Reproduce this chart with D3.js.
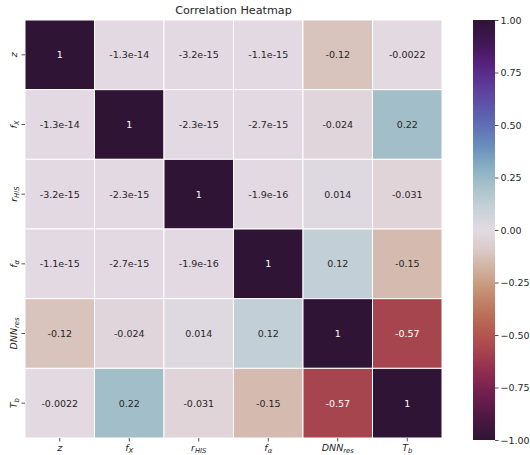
<!DOCTYPE html>
<html>
<head>
<meta charset="utf-8">
<script src="https://cdn.jsdelivr.net/npm/d3@7"></script>
<style>
  html, body { margin: 0; padding: 0; background: #ffffff; }
  svg { display: block; font-family: "DejaVu Sans", sans-serif; }
</style>
</head>
<body>
<svg id="chart" width="530" height="455"></svg>
<script>
// Variables (rows and columns, same order)
const varNames = ["z", "fX", "rHIS", "fa", "DNNres", "Tb"];
// Label parts: [main symbol, subscript]
const varLabels = [["z", ""], ["f", "X"], ["r", "HIS"], ["f", "α"], ["DNN", "res"], ["T", "b"]];

// Correlation matrix rows
const rowZ      = [1, -1.3e-14, -3.2e-15, -1.1e-15, -0.12, -0.0022];
const rowFX     = [-1.3e-14, 1, -2.3e-15, -2.7e-15, -0.024, 0.22];
const rowRHIS   = [-3.2e-15, -2.3e-15, 1, -1.9e-16, 0.014, -0.031];
const rowFA     = [-1.1e-15, -2.7e-15, -1.9e-16, 1, 0.12, -0.15];
const rowDNNres = [-0.12, -0.024, 0.014, 0.12, 1, -0.57];
const rowTb     = [-0.0022, 0.22, -0.031, -0.15, -0.57, 1];
const matrixRows = [rowZ, rowFX, rowRHIS, rowFA, rowDNNres, rowTb];

// Colour bar ticks
const cbarTicks = [-1, -0.75, -0.5, -0.25, 0, 0.25, 0.5, 0.75, 1];

// Diverging cyclic palette stops (value -> colour)
const paletteDomain = [-1, -0.9, -0.8, -0.7, -0.6, -0.5, -0.4, -0.3, -0.2, -0.1, 0,
                       0.1, 0.2, 0.3, 0.4, 0.5, 0.6, 0.7, 0.8, 0.9, 1];
const paletteColors = ["#2f1436", "#4a1840", "#6b1d4c", "#8a2851", "#a23e4e", "#b25650",
                       "#bb7058", "#c48e70", "#cfad98", "#dbc9c6", "#e2d9e2",
                       "#c8d2d9", "#a9c3cb", "#88aec3", "#6a8ebd", "#5f6eb4",
                       "#5e52a8", "#5d3894", "#55207c", "#3e1650", "#2f1436"];

const color = d3.scaleLinear().domain(paletteDomain).range(paletteColors)
  .interpolate(d3.interpolateRgb).clamp(true);

const svg = d3.select("#chart");
const plotLeft = 25, plotTop = 20, plotRight = 442, plotBottom = 438;
const fs = 9.5;

const x = d3.scaleBand().domain(varNames).range([plotLeft, plotRight]);
const y = d3.scaleBand().domain(varNames).range([plotTop, plotBottom]);

function fmt(v) {
  let s = v.toPrecision(2);
  if (s.indexOf("e") >= 0) {
    let [m, e] = s.split("e");
    if (m.indexOf(".") >= 0) m = m.replace(/0+$/, "").replace(/\.$/, "");
    const ex = parseInt(e, 10);
    return m + "e" + (ex < 0 ? "-" : "+") + String(Math.abs(ex)).padStart(2, "0");
  }
  if (s.indexOf(".") >= 0) s = s.replace(/0+$/, "").replace(/\.$/, "");
  return s;
}

function luminance(c) {
  const rgb = d3.rgb(c);
  const lin = [rgb.r, rgb.g, rgb.b].map(v => {
    v /= 255;
    return v <= 0.03928 ? v / 12.92 : Math.pow((v + 0.055) / 1.055, 2.4);
  });
  return 0.2126 * lin[0] + 0.7152 * lin[1] + 0.0722 * lin[2];
}

const cells = [];
matrixRows.forEach((row, i) => row.forEach((v, j) => cells.push({ r: varNames[i], c: varNames[j], v })));

// Heatmap cells
const g = svg.append("g");
g.selectAll("rect").data(cells).join("rect")
  .attr("x", d => x(d.c))
  .attr("y", d => y(d.r))
  .attr("width", x.bandwidth())
  .attr("height", y.bandwidth())
  .attr("fill", d => color(d.v))
  .attr("stroke", "#ffffff")
  .attr("stroke-width", 1);

// Annotations
g.selectAll("text").data(cells).join("text")
  .attr("x", d => x(d.c) + x.bandwidth() / 2)
  .attr("y", d => y(d.r) + y.bandwidth() / 2)
  .attr("text-anchor", "middle")
  .attr("dominant-baseline", "central")
  .attr("font-size", fs)
  .attr("fill", d => luminance(color(d.v)) > 0.408 ? "#262626" : "#ffffff")
  .text(d => fmt(d.v));

// Axis label with subscript
function mathLabel(sel, lab) {
  sel.append("tspan").attr("font-style", "italic").text(lab[0]);
  if (lab[1]) {
    sel.append("tspan").attr("font-style", "italic")
      .attr("font-size", 6.8).attr("dy", 1.8).text(lab[1]);
  }
}

// X axis
const xAxis = svg.append("g");
varNames.forEach((n, i) => {
  const cx = x(n) + x.bandwidth() / 2;
  xAxis.append("line").attr("x1", cx).attr("x2", cx).attr("y1", plotBottom).attr("y2", plotBottom + 3.5)
    .attr("stroke", "#262626").attr("stroke-width", 0.8);
  const t = xAxis.append("text").attr("x", cx).attr("y", plotBottom + 13)
    .attr("text-anchor", "middle").attr("font-size", fs).attr("fill", "#262626");
  mathLabel(t, varLabels[i]);
});

// Y axis
const yAxis = svg.append("g");
varNames.forEach((n, i) => {
  const cy = y(n) + y.bandwidth() / 2;
  yAxis.append("line").attr("x1", plotLeft - 3.5).attr("x2", plotLeft).attr("y1", cy).attr("y2", cy)
    .attr("stroke", "#262626").attr("stroke-width", 0.8);
  const t = yAxis.append("text")
    .attr("transform", `translate(${plotLeft - 8},${cy}) rotate(-90)`)
    .attr("text-anchor", "middle").attr("font-size", fs).attr("fill", "#262626");
  mathLabel(t, varLabels[i]);
});

// Title
svg.append("text").attr("x", (plotLeft + plotRight) / 2).attr("y", 14)
  .attr("text-anchor", "middle").attr("font-size", 11.2).attr("fill", "#262626")
  .text("Correlation Heatmap");

// Colour bar
const cbX = 473, cbW = 22;
const cbScale = d3.scaleLinear().domain([-1, 1]).range([plotBottom + 2, plotTop]);
const defs = svg.append("defs");
const grad = defs.append("linearGradient").attr("id", "cbar")
  .attr("x1", 0).attr("y1", 1).attr("x2", 0).attr("y2", 0);
d3.range(0, 1.0001, 0.02).forEach(t => {
  grad.append("stop").attr("offset", t).attr("stop-color", color(-1 + 2 * t));
});
svg.append("rect").attr("x", cbX).attr("y", cbScale(1)).attr("width", cbW)
  .attr("height", cbScale(-1) - cbScale(1)).attr("fill", "url(#cbar)");

const cbAxis = svg.append("g").attr("transform", `translate(${cbX + cbW},0)`)
  .call(d3.axisRight(cbScale).tickValues(cbarTicks).tickSize(3.5).tickPadding(2)
    .tickFormat(d => d3.format(".2f")(d)));
cbAxis.select(".domain").remove();
cbAxis.selectAll("text").attr("font-size", fs).attr("fill", "#262626")
  .attr("font-family", "DejaVu Sans, sans-serif");
cbAxis.selectAll("line").attr("stroke", "#262626").attr("stroke-width", 0.8);
</script>
</body>
</html>
